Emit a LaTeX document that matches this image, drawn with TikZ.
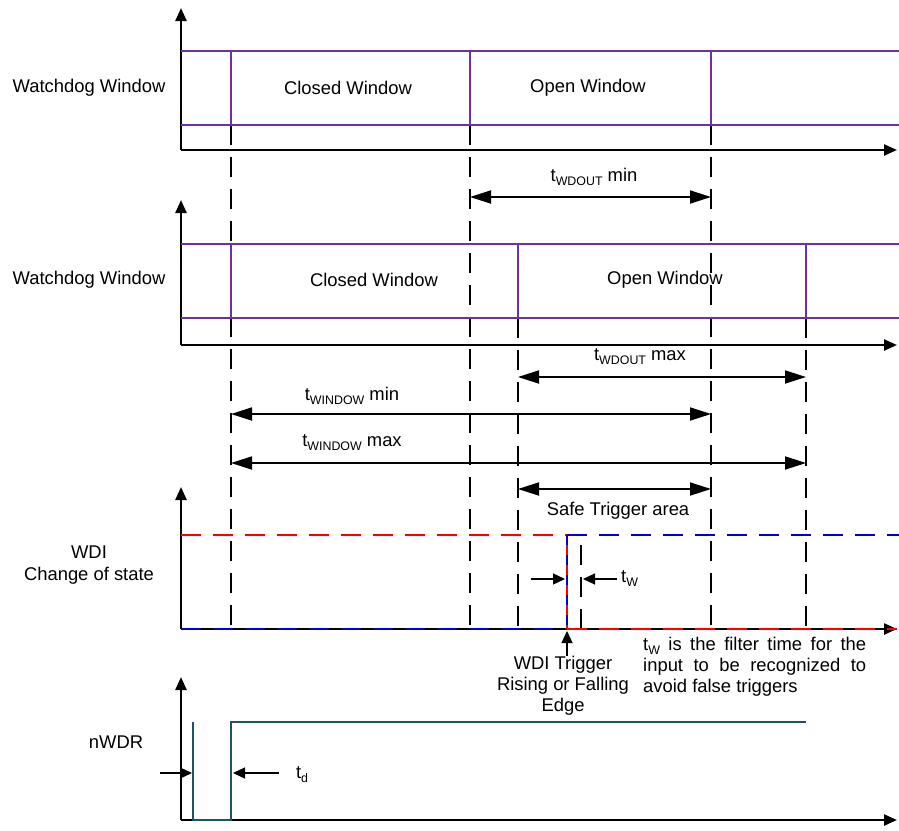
\documentclass[tikz,border=0pt]{standalone}
\usepackage{fontspec}
\setmainfont{Liberation Sans}
\usetikzlibrary{arrows.meta,positioning}

\definecolor{wdpurple}{RGB}{112,48,160}
\definecolor{wdteal}{RGB}{28,84,99}
\newcommand{\lowtx}[1]{\raisebox{-4pt}{\fontsize{12.4}{13}\selectfont #1}}

\begin{document}
\begin{tikzpicture}[x=1pt,y=-1pt,
    lbl/.style={font=\fontsize{18.4}{21.2}\selectfont,inner sep=0pt},
    axis/.style={line width=2.4pt,-{Triangle[length=13pt,width=11pt]}},
    win/.style={draw=wdpurple,line width=2pt},
    guide/.style={line width=2.2pt,dash pattern=on 20pt off 12pt},
    dim/.style={line width=1.8pt,{Triangle[length=21pt,width=13pt]}-{Triangle[length=21pt,width=13pt]}},
    pointer/.style={line width=1.2pt,-{Triangle[length=12pt,width=11pt]}},
    lvl/.style={line width=2.5pt,dash pattern=on 20pt off 12pt}]

    \useasboundingbox (0,0) rectangle (899,830);

    % guide lines
    \draw[guide] (231,125) -- (231,629);
    \draw[guide] (470,125) -- (470,629);
    \draw[guide] (711,125) -- (711,629);
    \draw[guide] (518,318) -- (518,629);
    \draw[guide] (806,318) -- (806,629);
    \draw[guide] (581,545) -- (581,629);

    % upper watchdog window
    \coordinate (o1) at (181,150);
    \draw[axis] (o1) -- (897,150);
    \draw[axis] (o1) -- (181,8);
    \draw[win] (181,51) -- (899,51) (181,125) -- (899,125);
    \draw[win] (231,51) -- (231,125) (470,51) -- (470,125) (711,51) -- (711,125);
    \node[lbl] (wd1) at (89,88) {Watchdog Window};
    \node[lbl] (closed1) at (348,88) {Closed Window};
    \node[lbl] (open1) at (588,88) {Open Window};

    % lower watchdog window
    \coordinate (o2) at (181,345);
    \draw[axis] (o2) -- (897,345);
    \draw[axis] (o2) -- (181,200);
    \draw[win] (181,244) -- (899,244) (181,318) -- (899,318);
    \draw[win] (231,244) -- (231,318) (518,244) -- (518,318) (806,244) -- (806,318);
    \node[lbl] (wd2) at (89,280) {Watchdog Window};
    \node[lbl] (closed2) at (374,280) {Closed Window};
    \node[lbl] (open2) at (665,280) {Open Window};

    % timing
    \coordinate (wdmin-l) at (470,197);
    \coordinate (wdmin-r) at (711,197);
    \draw[dim] (wdmin-l) -- (wdmin-r);
    \node[lbl] (wdminlbl) at (594,177) {t\lowtx{WDOUT} min};

    \coordinate (wdmax-l) at (518,377);
    \coordinate (wdmax-r) at (806,377);
    \draw[dim] (wdmax-l) -- (wdmax-r);
    \node[lbl] (wdmaxlbl) at (640,357) {t\lowtx{WDOUT} max};

    \coordinate (winmin-l) at (231,414);
    \coordinate (winmin-r) at (711,414);
    \draw[dim] (winmin-l) -- (winmin-r);
    \node[lbl] (winminlbl) at (352,396) {t\lowtx{WINDOW} min};

    \coordinate (winmax-l) at (231,463);
    \coordinate (winmax-r) at (806,463);
    \draw[dim] (winmax-l) -- (winmax-r);
    \node[lbl] (winmaxlbl) at (352,443) {t\lowtx{WINDOW} max};

    \coordinate (safe-l) at (518,489);
    \coordinate (safe-r) at (711,489);
    \draw[dim] (safe-l) -- (safe-r);
    \node[lbl] (safelbl) at (618,511) {Safe Trigger area};

    % WDI
    \coordinate (o3) at (181,629);
    \draw[axis] (o3) -- (897,629);
    \draw[axis] (o3) -- (181,487);
    \draw[lvl,red] (181,535) -- (567,535);
    \draw[lvl,red] (567,629) -- (897,629);
    \draw[lvl,blue!80!black] (181,629) -- (567,629);
    \draw[lvl,blue!80!black] (567,535) -- (899,535);
    \draw[line width=2.5pt,red] (567,535) -- (567,629);
    \draw[line width=2.5pt,blue!80!black,dash pattern=on 10pt off 10pt] (567,535) -- (567,629);
    \node[lbl,align=center] (wdi) at (89,565) {WDI\\Change of state};

    \coordinate (tw-a) at (531,579);
    \coordinate (tw-b) at (565,579);
    \coordinate (tw-c) at (617,579);
    \coordinate (tw-d) at (583,579);
    \draw[pointer] (tw-a) -- (tw-b);
    \draw[pointer] (tw-c) -- (tw-d);
    \node[lbl,right=4pt of tw-c] (twlbl) {t\lowtx{W}};

    \coordinate (edge-tip) at (567,631);
    \node[lbl,align=center,anchor=north] (trig) at (563,656) {WDI Trigger\\Rising or Falling\\Edge};
    \draw[pointer] (trig.north -| edge-tip) -- (edge-tip);

    \node[lbl,text width=223pt,align=justify,anchor=north west] (note) at (643,637)
      {t\lowtx{W} is the filter time for the\linebreak input to be recognized to\linebreak avoid false triggers};

    % nWDR
    \coordinate (o4) at (181,820);
    \draw[axis] (o4) -- (897,820);
    \draw[axis] (o4) -- (181,677);
    \draw[wdteal,line width=2.2pt] (193,722) -- (193,820) -- (231,820) -- (231,722) -- (806,722);
    \node[lbl] (nwdr) at (116,742) {nWDR};

    \coordinate (td-a) at (160,773);
    \coordinate (td-b) at (192,773);
    \coordinate (td-c) at (279,773);
    \coordinate (td-d) at (233,773);
    \draw[pointer] (td-a) -- (td-b);
    \draw[pointer] (td-c) -- (td-d);
    \node[lbl] (tdlbl) at (302,775) {t\lowtx{d}};
\end{tikzpicture}
\end{document}
